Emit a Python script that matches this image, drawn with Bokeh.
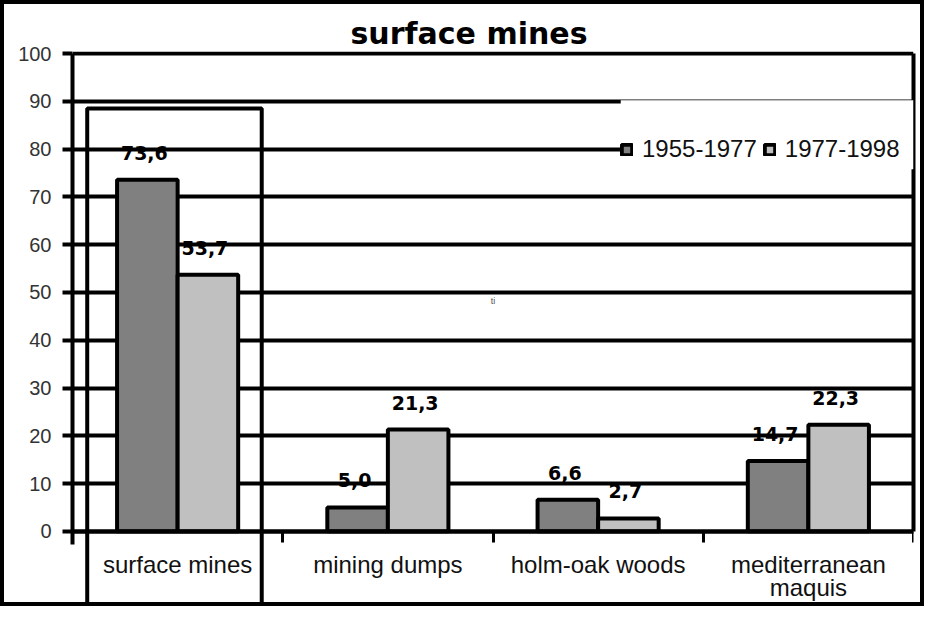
from bokeh.plotting import figure
from bokeh.models import (Range1d, LinearAxis, FixedTicker, ColumnDataSource,
                          LabelSet, BoxAnnotation, Grid, Label)
from bokeh.transform import dodge
from bokeh.core.properties import value
from bokeh.embed import file_html
from bokeh.resources import INLINE

# ---- data ----
categories = ["surface mines", "mining dumps", "holm-oak woods", "mediterranean maquis"]
category_tick_labels = ["surface mines", "mining dumps", "holm-oak woods", "mediterranean\nmaquis"]
series_names = ["1955-1977", "1977-1998"]
values_1955_1977 = [73.6, 5.0, 6.6, 14.7]
values_1977_1998 = [53.7, 21.3, 2.7, 22.3]
y_ticks = [0, 10, 20, 30, 40, 50, 60, 70, 80, 90, 100]
title_text = "surface mines"
highlighted_category = "surface mines"

def fmt(v):
    return f"{v:.1f}".replace(".", ",")

src = ColumnDataSource(dict(
    cat=categories,
    a=values_1955_1977,
    b=values_1977_1998,
    la=[fmt(v) for v in values_1955_1977],
    lb=[fmt(v) for v in values_1977_1998],
))

p = figure(x_range=categories, y_range=Range1d(-16.56, 100.42),
           width=924, height=606, output_backend="svg", toolbar_location=None,
           x_axis_type=None, y_axis_type=None,
           min_border_left=68, min_border_right=15, min_border_top=47, min_border_bottom=0,
           background_fill_color="white", border_fill_color="white")
p.styles = {"border": "4px solid black"}
p.outline_line_color = None

# title
p.title.text = title_text
p.title.text_font = "DejaVu Sans"
p.title.text_font_style = "bold"
p.title.text_font_size = "30px"
p.title.text_color = "black"
p.title.align = "left"
p.title.offset = 278
p.title.standoff = 2

# y axis
yaxis = LinearAxis(ticker=FixedTicker(ticks=y_ticks), bounds=(-2.8, 100),
                   axis_line_color="black", axis_line_width=4,
                   major_tick_line_color="black", major_tick_line_width=4,
                   major_tick_out=10, major_tick_in=0,
                   minor_tick_line_color=None,
                   major_label_text_font="Liberation Sans",
                   major_label_text_font_size="20px",
                   major_label_text_color="#333333",
                   major_label_standoff=11)
p.add_layout(yaxis, "left")

# right frame edge
raxis = LinearAxis(ticker=FixedTicker(ticks=[]), bounds=(0, 100),
                   axis_line_color="black", axis_line_width=4,
                   major_tick_line_color=None, minor_tick_line_color=None,
                   major_tick_out=0, major_label_standoff=0,
                   major_label_text_font_size="0px")
p.add_layout(raxis, "right")

# x axis at y = 0: labels at category centres, ticks at category boundaries
n = len(categories)
centres = [i + 0.5 for i in range(n)]
bounds = [float(i) for i in range(n + 1)]
xaxis = LinearAxis(ticker=FixedTicker(ticks=centres, minor_ticks=bounds),
                   fixed_location=0,
                   major_label_overrides={c: lab for c, lab in zip(centres, category_tick_labels)},
                   axis_line_color="black", axis_line_width=4,
                   major_tick_line_color=None, major_tick_out=11, major_tick_in=0,
                   minor_tick_line_color="black", minor_tick_line_width=3,
                   minor_tick_out=11, minor_tick_in=0,
                   major_label_text_font="Liberation Sans",
                   major_label_text_font_size="24px",
                   major_label_text_color="#111111",
                   major_label_text_line_height=0.85,
                   major_label_standoff=9)
p.add_layout(xaxis, "below")

# grid
grid = Grid(dimension=1, ticker=FixedTicker(ticks=y_ticks),
            grid_line_color="black", grid_line_width=4)
p.add_layout(grid)

# bars
bw = 0.288
p.vbar(x=dodge("cat", -bw / 2, range=p.x_range), top="a", width=bw, source=src,
       fill_color="#808080", line_color="black", line_width=4, legend_label=series_names[0])
p.vbar(x=dodge("cat", bw / 2, range=p.x_range), top="b", width=bw, source=src,
       fill_color="#c0c0c0", line_color="black", line_width=4, legend_label=series_names[1])

# value labels (under the grid lines)
for col, lab, off in (("a", "la", -bw / 2), ("b", "lb", bw / 2)):
    ls = LabelSet(x=dodge("cat", off, range=p.x_range), y=col, text=lab, source=src,
                  text_align="center", text_baseline="alphabetic",
                  x_offset=-3, y_offset=20,
                  text_font=value("DejaVu Sans"), text_font_style="bold",
                  text_font_size="19px", text_color="black", level="image")
    p.add_layout(ls)

# box around the highlighted category (reaches below the axis, round its label)
hi = categories.index(highlighted_category)
box = BoxAnnotation(left=hi + 0.07, right=hi + 0.90, top=88.5, bottom=-15.9,
                    fill_alpha=0, fill_color=None, line_color="black",
                    line_alpha=1.0, line_width=4)
p.add_layout(box)

# white panel behind the legend (hides the grid lines there)
legend_bg = BoxAnnotation(left=2.6075, right=n, top=90.23, bottom=75.8,
                          fill_color="white", fill_alpha=1.0, line_color=None,
                          level="guide")
p.add_layout(legend_bg)

# stray mark
p.add_layout(Label(x=2.0, y=49.3, text="ti", text_font_size="9px", text_color="#555555",
                   text_font="Liberation Sans", text_align="center", text_baseline="top"))

# legend
lg = p.legend[0]
lg.orientation = "horizontal"
lg.location = (548, 447)
lg.padding = 9
lg.margin = 0
lg.spacing = 6
lg.glyph_width = 13
lg.glyph_height = 13
lg.label_standoff = 9
lg.label_text_font = "Liberation Sans"
lg.label_text_font_size = "24px"
lg.label_text_color = "#111111"
lg.border_line_color = None
lg.background_fill_color = "white"
lg.background_fill_alpha = 1.0

open("out.html", "w").write(file_html(p, INLINE))
